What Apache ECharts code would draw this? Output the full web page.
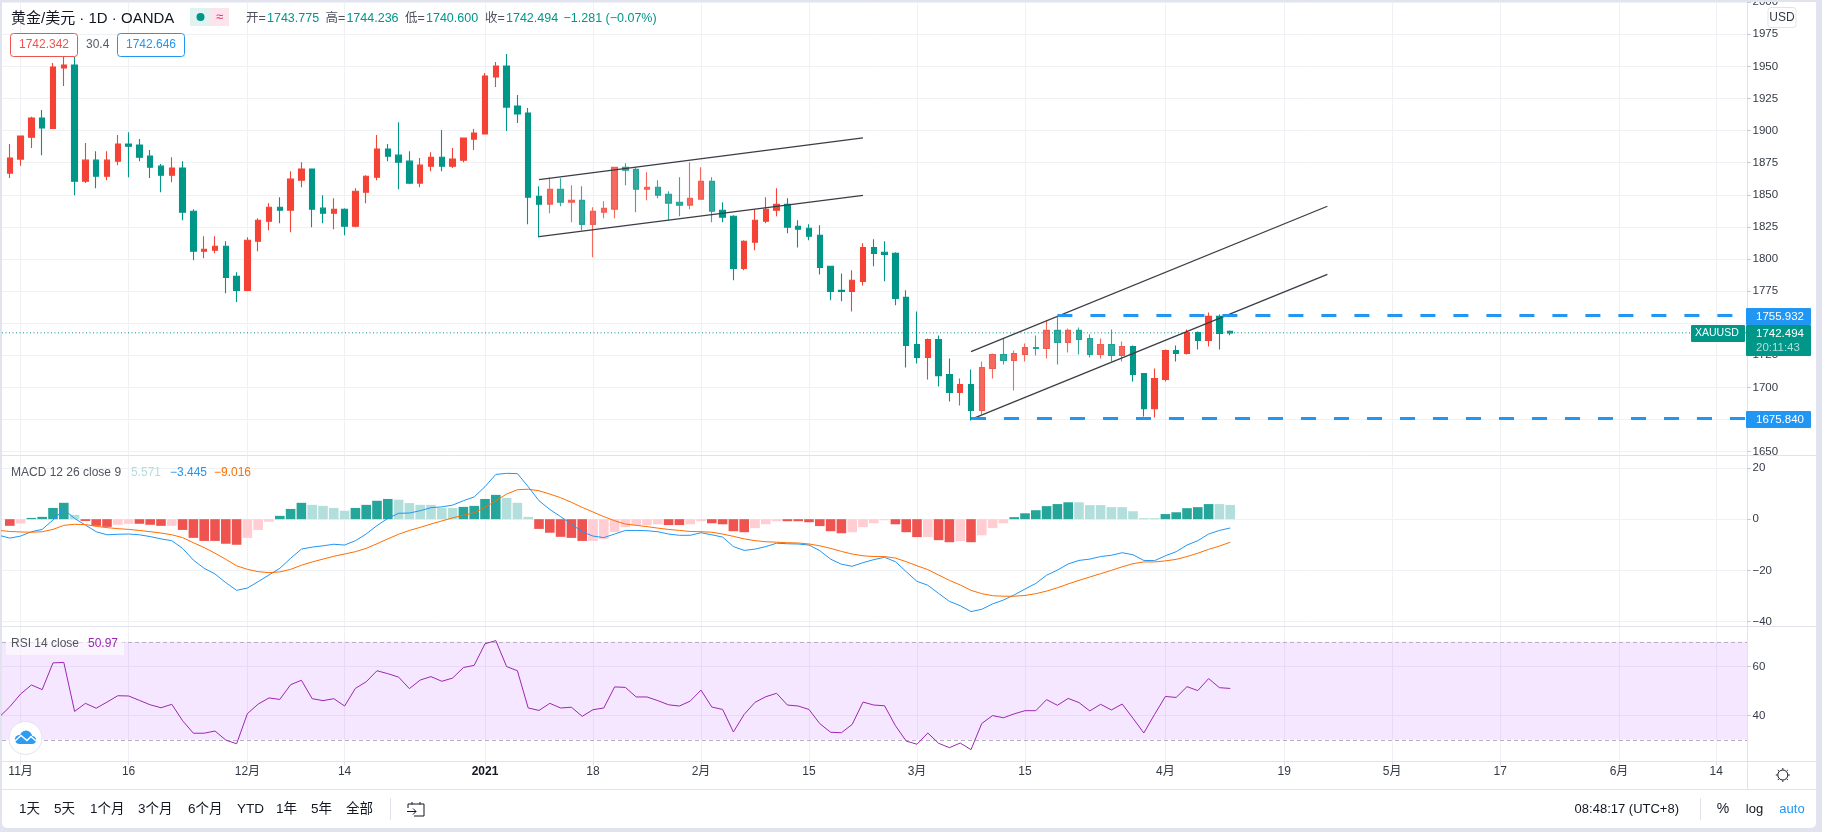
<!DOCTYPE html>
<html><head><meta charset="utf-8">
<style>
html,body{margin:0;padding:0;width:1822px;height:832px;overflow:hidden;background:#e1e4ee}
#panel{position:absolute;left:2px;top:2px;width:1814px;height:826px;background:#fff;border-radius:0 0 5px 5px}
#c{position:absolute;left:0;top:0;width:1822px;height:832px}
</style>
<script src="https://cdn.jsdelivr.net/npm/echarts@6/dist/echarts.min.js"></script>
</head><body><div id="panel"></div><div id="c"></div>
<script>
// Daily bars, first bar is index -1 (partly off the left edge)
const firstBar = -1;
const opens = [1877,1866.9,1877.8,1894.9,1909.8,1901.7,1948.8,1951.1,1860.6,1877,1864.5,1876.2,1889.5,1888.7,1880.1,1872.3,1865.3,1870.8,1837.2,1806,1806.8,1809.9,1786.5,1775.6,1813.8,1829.4,1840.3,1838,1861.4,1870,1839.6,1835.7,1838.8,1825.5,1852,1863.7,1885.6,1880.9,1876.2,1859.1,1872.3,1879.3,1872.3,1877,1893.4,1897.3,1941.7,1950.3,1919.1,1913.7,1848.9,1842.6,1854.3,1844.2,1845.7,1827,1836.4,1838.7,1871.5,1869.9,1854.3,1855.9,1850.4,1844.2,1841.9,1846.5,1860.6,1838,1833.3,1792.7,1813,1829.4,1838,1842.6,1825.5,1823.9,1818.4,1794.3,1775.6,1774.8,1782.6,1809,1805.2,1804.4,1770.1,1733.4,1723.3,1737.3,1710,1696,1702.2,1682,1714.7,1725.6,1720.9,1725.6,1731,1730.3,1744.4,1735,1744.4,1738.1,1725.6,1733.4,1724.8,1731.9,1710.8,1683.5,1706.1,1728.7,1726.4,1742.8,1736.5,1755.3,1743.775];
const closes = [1866.9,1878.6,1895.7,1909.8,1902,1949.5,1951.1,1860.6,1877,1864.5,1877,1889.5,1887.9,1879.3,1871.5,1865.3,1870.8,1836.4,1806,1807.6,1809.9,1785.7,1775.6,1814.6,1830.2,1840.3,1838,1862.2,1870,1838.8,1835.7,1838.8,1825.5,1852.8,1864.5,1885.6,1880.1,1875.4,1859.1,1873.1,1879.3,1872.3,1877.8,1894.2,1898.1,1942.5,1950.3,1918.3,1912.9,1848.1,1842.7,1854.3,1844.2,1845.7,1827,1837.2,1839.5,1871.5,1869.2,1854.3,1855.9,1849.6,1843.4,1841.9,1847.3,1860.6,1837.2,1832.5,1792.7,1813.8,1830.2,1838.7,1842.6,1824.7,1823.2,1817.7,1793.5,1774.8,1774.8,1783.4,1809,1804.4,1803.6,1769.3,1732.7,1723.3,1737.3,1709.2,1696,1702.2,1682,1715.5,1725.6,1720.9,1726.4,1731,1730.3,1744.4,1735,1744.4,1737.3,1725.6,1733.4,1724.8,1731.9,1710,1683.5,1706.9,1728.7,1726.4,1742.8,1736.5,1755.3,1742,1742.494];
const lows = [1866.9,1863,1872.6,1886.4,1880.9,1901.2,1934.7,1849.7,1859.1,1855.2,1861.4,1873.1,1863.7,1876.2,1863,1852,1859.8,1830.2,1799,1800.6,1804.5,1773.3,1766.5,1774.8,1806,1822.4,1827.9,1820.8,1855.9,1824.7,1827.9,1823.2,1818.5,1824.7,1843.5,1861.4,1876.2,1854.4,1858.3,1855.9,1868.4,1868.4,1870.8,1875.4,1884.8,1897.3,1933.9,1899.6,1905.9,1827.1,1816.7,1835.6,1841,1828.6,1822.4,1801.3,1831.7,1831.7,1857.4,1836.4,1845.7,1847.3,1830.2,1833.3,1838.7,1846.5,1828.6,1828.6,1783.4,1791.2,1806.8,1827.8,1833.3,1820,1809,1814.6,1788,1767.8,1767,1759.2,1779.4,1794.3,1782.6,1763.9,1715.5,1718.6,1706.1,1700.7,1689,1685.9,1674.2,1678.8,1706.9,1717.8,1697.5,1720.2,1724.8,1722.5,1717.8,1727.2,1725.6,1723.3,1722.5,1720.2,1720.2,1704.6,1677.3,1676.5,1704.6,1720.2,1725.6,1729.5,1731.9,1729.5,1740.6];
const highs = [1877,1889.5,1895.7,1910.8,1916,1952.7,1962.8,1957.6,1890.3,1884,1884,1896.5,1898.8,1893.4,1884.8,1873.9,1879.3,1876.2,1838.8,1817.7,1817.7,1813.8,1789.6,1816.9,1831.8,1843.5,1848.1,1868.4,1875.4,1870,1849.7,1847.4,1839.6,1855.2,1865.3,1896.5,1889.5,1906.6,1884,1878.6,1883.2,1900.4,1886.4,1894.2,1901.2,1944.9,1953.4,1959.7,1927.7,1917.6,1856.7,1863.4,1862.9,1857.4,1856.7,1840.3,1845,1871.5,1874.6,1871.5,1867.6,1861.4,1852.8,1863.7,1875.4,1871.5,1863.7,1844.2,1834,1814.6,1838.7,1848.1,1855.1,1847.3,1830.2,1827,1826.3,1794.3,1788.8,1791.2,1812.2,1815.3,1813.8,1805.2,1775.6,1759.2,1738.1,1740.4,1722.5,1706.9,1713.9,1720.2,1726.4,1738.6,1728.7,1734.2,1740.4,1752.2,1755.3,1745.9,1746.7,1741.3,1738.1,1745.1,1735.8,1732.7,1710.8,1714.7,1729.5,1732.7,1745.1,1743.6,1758.4,1756.8,1744.236];
const fadedBars = [[50,65],[90,103]];

const macdHist = [null,-2.6,-1.7,0.5,0.9,4.4,6.4,1.7,-0.7,-2.6,-3,-2.2,-1.8,-1.8,-2.2,-2.6,-2.6,-4.2,-7.3,-8.5,-8.5,-9.6,-10,-7.3,-4.2,-1,1.3,4,6.4,5.6,5.2,4.4,3.3,4.4,5.6,7.2,7.9,7.6,6.3,5.6,5.6,4.4,4.4,4.8,5.2,7.9,9.5,8.3,6.4,0.9,-3.8,-5.3,-6.9,-7.3,-8.5,-8.5,-7.8,-5,-3.1,-2.3,-2.3,-2,-2.3,-2.3,-2,-0.8,-1.6,-2,-4.7,-5.1,-3.5,-2,-0.8,-0.8,-0.8,-1.2,-2.7,-4.7,-5.5,-5.1,-3.1,-1.6,-0.4,-2,-5.1,-7,-7,-8.2,-9,-8.6,-9,-6.3,-3.5,-1.6,0.8,2.3,3.5,5.1,5.9,6.6,6.6,5.5,5.5,4.7,4.7,3.1,0.4,0.4,2,2.7,4.3,4.7,5.9,5.9,5.571];
const macdShade = 'R R r G G G G g R R R r r R R R r R R R R R R r r r G G G g g g g G G G G g g g g g g G G G G g g g R R R R R r r r r r r r R R r r R R R R r r r R R R R R R r r r r R R R r R R r R r r r G G G G G G g g g g g g g g G G G G G g g'.split(' ');
const macdLine = [-6.3,-7.4,-6.6,-4.9,-4,-0.3,3.8,0.3,-2.3,-4.9,-6.1,-5.9,-5.8,-6.1,-6.8,-7.7,-8.4,-11.4,-16,-19.2,-21.4,-24.8,-27.8,-26.9,-24.4,-21.8,-19.2,-15.3,-11.7,-10.9,-10.4,-9.8,-10.1,-8.4,-5.8,-2.5,0.3,2.3,2.4,3.3,4.5,4.8,5.5,7.2,8.7,12.7,17.5,17.9,17.8,12.7,7.2,3.8,1,-1.9,-4.9,-6.6,-7.2,-5.8,-4.4,-4.4,-4.5,-4.9,-5.8,-6.3,-6.3,-5.3,-6.1,-7,-10.7,-12.2,-11.7,-10.7,-9.4,-9.6,-9.7,-10.1,-12.3,-15.6,-17.6,-18.4,-17,-15.8,-14.9,-16.6,-20.5,-24.3,-25.8,-29,-32.1,-33.8,-36.1,-35.2,-33.1,-31.6,-29.6,-27.3,-25.1,-21.9,-19.9,-17.5,-16.1,-15.6,-14.6,-14.1,-13.1,-13.9,-16.1,-16.2,-14.3,-12.7,-10.1,-8.4,-5.8,-4.4,-3.445];
const signalLine = [-4.4,-4.8,-5,-5.1,-4.9,-4,-2.4,-2,-2.1,-2.8,-3.3,-3.7,-4,-4.4,-4.9,-5.4,-6.1,-7.2,-9.2,-11.1,-13.3,-15.7,-18.2,-19.6,-20.5,-20.9,-20.6,-19.6,-18,-16.7,-15.6,-14.5,-13.6,-12.7,-11.4,-9.6,-7.7,-5.9,-4.4,-3.2,-1.9,-0.7,0.5,1.5,2.5,4.6,7.2,9.8,11.5,11.7,11.1,9.8,8.4,6.6,4.6,2.8,1,-0.6,-1.9,-2.4,-2.9,-3.5,-4,-4.4,-4.8,-4.9,-5.1,-5.8,-6.7,-7.7,-8.4,-8.8,-9,-9.2,-9.3,-9.7,-10.4,-11.4,-12.6,-13.6,-14.3,-14.6,-14.6,-15.2,-16.6,-18.2,-19.7,-21.8,-23.9,-25.7,-27.8,-29.1,-29.9,-30.1,-30.1,-29.8,-29.1,-28.1,-26.8,-25.3,-23.9,-22.6,-21.3,-20,-18.6,-17.4,-16.7,-16.7,-16.3,-15.7,-14.6,-13.3,-11.8,-10.5,-9.016];
const rsiLine = [39.2,43.5,48.7,52.4,50.5,61.4,61.6,41.6,44.9,42.9,45.4,48,47.9,46.1,44.3,43.1,44.5,37.8,32.7,32.7,33.6,29.9,28.4,40.7,44.6,47.1,46.5,52.5,54.3,46.8,46,46.8,43.8,51,53.7,58.2,57,55.6,50.9,54.4,55.8,53.9,55.2,59.5,60.4,69.2,70.5,59.9,58.2,43,42,44.9,43,43.3,39.6,42.3,43,51.6,51.4,47.5,47.5,46,44.3,43.8,45.8,50.3,43.4,42.4,33.2,40.4,45.3,47.6,49,44.2,43.8,42.4,36.6,33.1,32.9,36.3,45.4,44.2,43.9,35.8,29.5,28.2,32.8,28.6,26.8,28.7,26,36.7,39.9,39,40.6,41.9,41.9,46.4,44.1,46.9,45.2,41.8,44.5,42.2,44.6,38.8,32.8,40.4,47.7,47.3,51.7,50.1,55,51.3,50.97];

// Time axis: bar index of each labelled date
const dateTicks = [1,11,22,31,44,54,64,74,84,94,107,118,128,138,149,158];
const dateLabels = ['11月','16','12月','14','2021','18','2月','15','3月','15','4月','19','5月','17','6月','14'];
const priceTicks = [1650,1675,1700,1725,1750,1775,1800,1825,1850,1875,1900,1925,1950,1975,2000];
const macdTicks = [-40,-20,0,20];
const rsiTicks = [40,60];
const rsiBand = [30,70];

// Drawings on the price pane [bar, price]
const upperChannelA = [[49,1861.9],[79,1894.3]];
const lowerChannelA = [[49,1817.4],[79,1849.6]];
const upperChannelB = [[89,1727.9],[122,1841.1]];
const lowerChannelB = [[89,1675.1],[122,1788]];
const resistance = 1755.932, resistanceFrom = 97;
const support = 1675.84, supportFrom = 89;
const lastPrice = 1742.494;

const xMin = -0.7222, xMax = 160.852;
const FONT = "'Liberation Sans','Noto Sans CJK SC',sans-serif";
const UP='#f44336', DOWN='#009688', GRID='#f0f1f4', EDGE='#e0e3eb', TXT='#333a45';
const shadeColor = {G:'#26a69a', g:'#b2dfdb', R:'#ef5350', r:'#ffcdd2'};

const idx = i => i + firstBar;
const isFaded = x => fadedBars.some(r => x>=r[0] && x<=r[1]);
const candleData = opens.map((o,i)=>({
  value:[idx(i),o,closes[i],lows[i],highs[i]],
  itemStyle:isFaded(idx(i))?{opacity:0.8}:undefined
}));
const pts = a => a.map((v,i)=>[idx(i),v]);
const xAx = (g,showLabels) => ({
  type:'value', gridIndex:g, min:xMin, max:xMax, position:'bottom',
  axisLine:{show:false,onZero:false},
  axisTick:{show:showLabels,customValues:dateTicks,length:4,lineStyle:{color:EDGE}},
  axisLabel:{show:showLabels,customValues:dateTicks,margin:4,fontFamily:FONT,fontSize:12,color:TXT,
    hideOverlap:false,showMinLabel:true,showMaxLabel:true,
    formatter:v=>{const s=dateLabels[dateTicks.indexOf(v)]; return s==='2021'?'{y|2021}':s;},
    rich:{y:{fontFamily:FONT,fontSize:12,fontWeight:'bold',color:'#131722'}}},
  splitLine:{show:true,lineStyle:{color:GRID,width:1}}
});
const yAx = (g,min,max,ticks) => ({
  type:'value', gridIndex:g, min, max, position:'right', scale:true,
  axisLine:{show:true,onZero:false,lineStyle:{color:EDGE}},
  axisTick:{show:true,customValues:ticks,length:4,lineStyle:{color:'#c8cbd3'}},
  axisLabel:{show:true,customValues:ticks,margin:5.5,fontFamily:FONT,fontSize:11.5,color:TXT,
    showMinLabel:true,showMaxLabel:true,hideOverlap:false,formatter:v=>String(v).replace('-','−')},
  splitLine:{show:true,lineStyle:{color:GRID,width:1}}
});
const seg = (name,data,color,width,type,z) => ({
  name,type:'line',xAxisIndex:0,yAxisIndex:0,data,showSymbol:false,symbol:'none',silent:true,
  lineStyle:{color,width,type},z:z||5,animation:false
});

const chart = echarts.init(document.getElementById('c'),null,{renderer:'canvas'});
const option = {
  animation:false,backgroundColor:'transparent',textStyle:{fontFamily:FONT},
  grid:[
    {left:2,width:1745,top:2,height:453,outerBoundsMode:'none'},
    {left:2,width:1745,top:456,height:170,outerBoundsMode:'none'},
    {left:2,width:1745,top:626,height:135.3,outerBoundsMode:'none'}
  ],
  xAxis:[xAx(0,false),xAx(1,false),xAx(2,true)],
  yAxis:[yAx(0,1647.35,2000.16,priceTicks),yAx(1,-41.73,24.68,macdTicks),yAx(2,21.24,76.46,rsiTicks)],
  series:[
    seg('last',[[xMin,lastPrice],[xMax,lastPrice]],DOWN,1,[1,2.5],3),
    {name:'XAUUSD',type:'candlestick',xAxisIndex:0,yAxisIndex:0,barWidth:6,z:4,data:candleData,
     itemStyle:{color:UP,color0:DOWN,borderColor:UP,borderColor0:DOWN,borderWidth:1.1}},
    seg('upperA',upperChannelA,'#3a3d45',1.3),
    seg('lowerA',lowerChannelA,'#3a3d45',1.3),
    seg('upperB',upperChannelB,'#3a3d45',1.3),
    seg('lowerB',lowerChannelB,'#3a3d45',1.3),
    seg('resistance',[[resistanceFrom,resistance],[xMax,resistance]],'#2196f3',3,[15,18]),
    seg('support',[[supportFrom,support],[xMax,support]],'#2196f3',3,[15,18]),
    {name:'hist',type:'bar',xAxisIndex:1,yAxisIndex:1,barWidth:9.6,z:3,
     data:macdHist.map((v,i)=>({value:[idx(i),v],itemStyle:{color:shadeColor[macdShade[i]]}}))},
    {name:'macd',type:'line',xAxisIndex:1,yAxisIndex:1,data:pts(macdLine),showSymbol:false,symbol:'none',z:5,lineStyle:{color:'#2196f3',width:1}},
    {name:'signal',type:'line',xAxisIndex:1,yAxisIndex:1,data:pts(signalLine),showSymbol:false,symbol:'none',z:6,lineStyle:{color:'#ff6d00',width:1}},
    {name:'rsi',type:'line',xAxisIndex:2,yAxisIndex:2,data:pts(rsiLine),showSymbol:false,symbol:'none',z:5,lineStyle:{color:'#9c27b0',width:1},
     markArea:{silent:true,itemStyle:{color:'rgba(153,21,255,0.1)'},data:[[{xAxis:xMin,yAxis:rsiBand[0]},{xAxis:xMax,yAxis:rsiBand[1]}]]},
     markLine:{silent:true,symbol:'none',label:{show:false},lineStyle:{color:'#b8b0c2',type:[4,3],width:1},data:[{yAxis:rsiBand[1]},{yAxis:rsiBand[0]}]}}
  ]
};
chart.setOption(option);

// ---- interface text around the chart
const T = (text,x,y,size,fill,extra) => Object.assign({type:'text',z:60,style:Object.assign({text,x,y,fill,font:(size)+'px '+FONT,verticalAlign:'middle',align:'left'},extra||{})});
const R = (x,y,w,h,fill,stroke,r) => ({type:'rect',z:55,shape:{x,y,width:w,height:h,r:r||0},style:{fill,stroke:stroke||null,lineWidth:1}});
const L = (x1,y1,x2,y2,stroke,w) => ({type:'line',z:56,shape:{x1,y1,x2,y2},style:{stroke:stroke||EDGE,lineWidth:w||1}});
const C = (cx,cy,r,fill,z) => ({type:'circle',z:z||61,shape:{cx,cy,r},style:{fill}});
const CTR = {align:'center'};

const headerValues = [['开=','1743.775',246],['高=','1744.236',325.4],['低=','1740.600',405],['收=','1742.494',485]];
const rangeButtons = [['1天',19],['5天',54],['1个月',90],['3个月',138],['6个月',188],['YTD',237],['1年',276],['5年',311],['全部',346]];

const g = [
  // clip of cut axis labels
  R(1748,0,68,2,'#e1e4ee'),
  R(1748,455.5,68,6,'#ffffff'),
  // separators
  L(2,455.5,1816,455.5),L(2,626.5,1816,626.5),L(2,761.5,1816,761.5),L(2,789.5,1816,789.5),
  L(1747.5,761,1747.5,789.5),
  // title row
  T('黄金/美元 · 1D · OANDA',11,19,15,'#131722'),
  R(190,8,20,18,'#e0f2f1'),R(210,8,19,18,'#fce4ec'),
  {type:'circle',z:60,shape:{cx:200.5,cy:17,r:4},style:{fill:'#009688'}},
  T('≈',219.5,17,13,'#e91e63',CTR),
  // boxes
  R(10.5,33.5,67,23,'#fff','#ef5350',3),T('1742.342',44,45,12,'#ef5350',CTR),
  T('30.4',86,45,12,'#555c66'),
  R(117.5,33.5,67,23,'#fff','#2196f3',3),T('1742.646',151,45,12,'#2196f3',CTR),
  R(1768,7.5,28,20,'#fff',EDGE,3),T('USD',1782,17.5,12,TXT,CTR),
  // panes
  T('MACD 12 26 close 9',11,473,12,'#50535e'),
  T('5.571',131,473,12,'#b2dfdb'),T('−3.445',170,473,12,'#2196f3'),T('−9.016',214,473,12,'#ff6d00'),
  R(6,638,118,17,'rgba(255,255,255,0.6)'),
  T('RSI 14 close',11,644,12,'#50535e'),T('50.97',88,644,12,'#9c27b0'),
  // logo
  {type:'circle',z:60,shape:{cx:25.5,cy:738,r:16.5},style:{fill:'#fff',stroke:EDGE,lineWidth:1}},
  C(19.5,739.5,4.6,'#2e9cf0'),C(26,736.8,6.2,'#2e9cf0'),C(32,740,4,'#2e9cf0'),
  {type:'rect',z:61,shape:{x:19,y:739,width:13,height:5},style:{fill:'#2e9cf0'}},
  {type:'polyline',z:62,shape:{points:[[15,741],[21,735.5],[27,740.5],[31,736.5],[36,741]]},style:{stroke:'#fff',fill:null,lineWidth:1.4}},
  // gear
  {type:'circle',z:60,shape:{cx:1782.8,cy:775,r:5},style:{fill:'#fff',stroke:'#131722',lineWidth:1}},
  L(1782.8,768,1782.8,769.6,'#131722'),L(1782.8,780.4,1782.8,782,'#131722'),L(1775.8,775,1777.4,775,'#131722'),L(1788.2,775,1789.8,775,'#131722'),
  L(1777.8,770,1779,771.2,'#131722'),L(1786.6,778.8,1787.8,780,'#131722'),L(1777.8,780,1779,778.8,'#131722'),L(1786.6,771.2,1787.8,770,'#131722'),
  // toolbar
  L(390.5,798,390.5,820),L(1700.5,798,1700.5,820),
  {type:'polyline',z:60,shape:{points:[[408,804],[424,804],[424,816],[414,816]]},style:{stroke:'#131722',fill:null,lineWidth:1}},
  L(408,804,408,808,'#131722'),L(412,802,412,804.5,'#131722'),L(420,802,420,804.5,'#131722'),
  L(407,811.5,416,811.5,'#131722'),L(413,808.5,416,811.5,'#131722'),L(413,814.5,416,811.5,'#131722'),
  T('08:48:17 (UTC+8)',1574.6,809.5,13,'#131722'),
  T('%',1723,809.5,14,'#131722',CTR),
  T('log',1754.5,809.5,13,'#131722',CTR),
  T('auto',1792,809.5,13,'#2196f3',CTR),
  // price tags
  R(1746,308,65,17,'#2196f3',null,1),T('1755.932',1756,316.5,11.5,'#fff'),
  R(1746,411,65,17,'#2196f3',null,1),T('1675.840',1756,419.5,11.5,'#fff'),
  R(1746,325,65,31,'#009688',null,1),T('1742.494',1756,333.5,11.5,'#fff'),T('20:11:43',1756,348,11.5,'#b2dfdb'),
  R(1691,325,54,17,'#009688',null,1),T('XAUUSD',1695,333.5,10.5,'#fff')
];
headerValues.forEach(h=>{
  g.push(T(h[0],h[2],19,12.5,'#50535e'));
  g.push(T(h[1],h[2]+21,19,12.5,DOWN));
});
g.push(T('−1.281 (−0.07%)',563.5,19,12.5,DOWN));
rangeButtons.forEach(b=>g.push(T(b[0],b[1],809.5,13.5,'#131722')));
chart.setOption({graphic:{elements:g}});
</script></body></html>
